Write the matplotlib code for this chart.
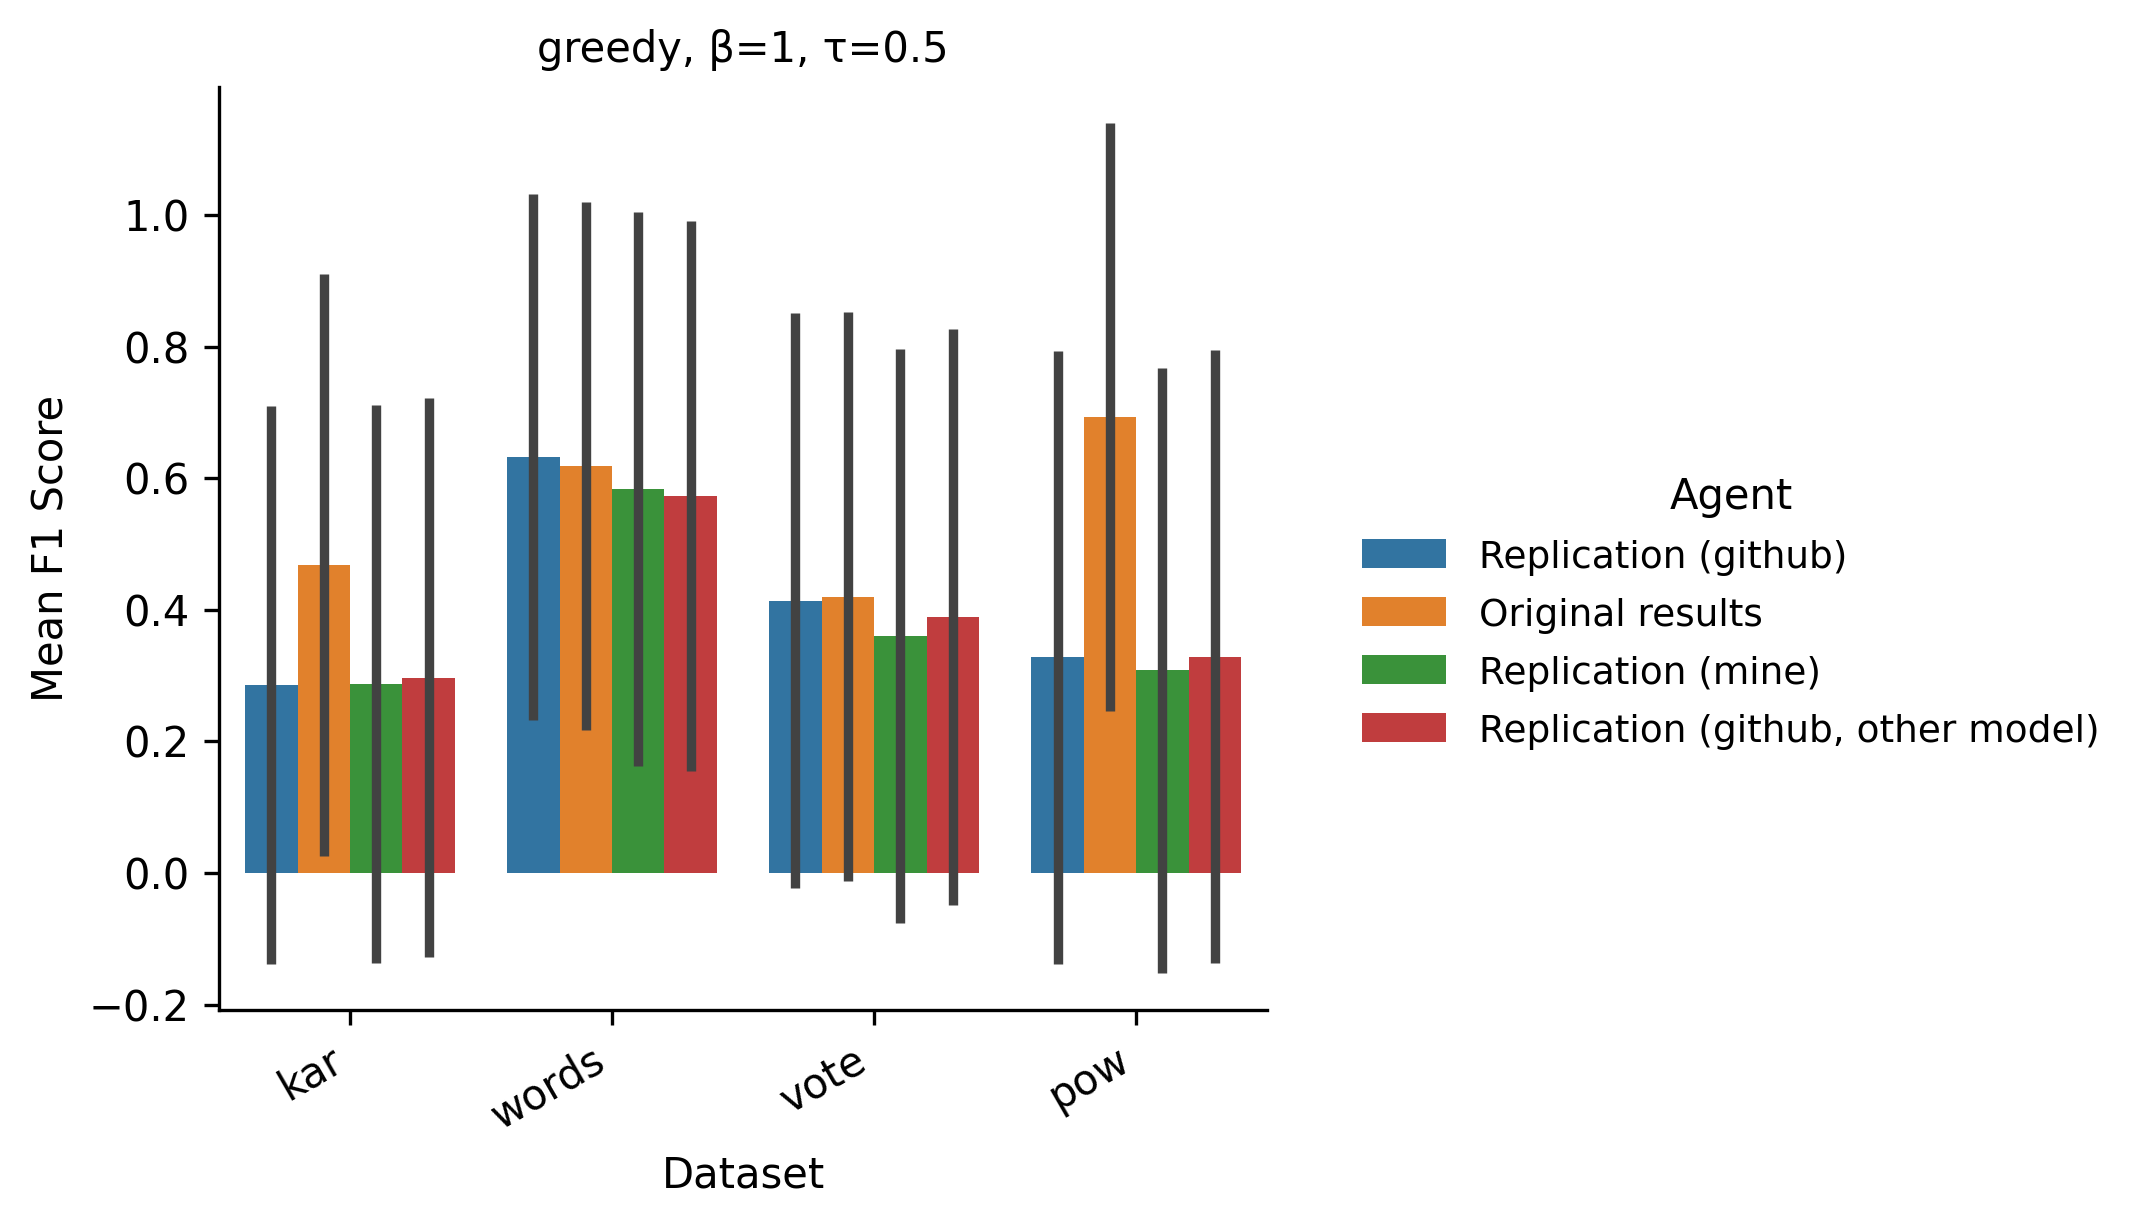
import matplotlib
matplotlib.use("Agg")
import matplotlib.pyplot as plt
import numpy as np

datasets = ["kar", "words", "vote", "pow"]
agents = [
    "Replication (github)",
    "Original results",
    "Replication (mine)",
    "Replication (github, other model)",
]
colors = ["#3274a1", "#e1812c", "#3a923a", "#c03d3e"]

# mean F1 per agent, one value per dataset
mean_github = [0.286, 0.632, 0.414, 0.328]
mean_original = [0.468, 0.619, 0.420, 0.693]
mean_mine = [0.287, 0.583, 0.360, 0.308]
mean_other = [0.297, 0.573, 0.389, 0.329]

# standard deviation (error bar half-length)
sd_github = [0.424, 0.400, 0.437, 0.466]
sd_original = [0.442, 0.401, 0.432, 0.447]
sd_mine = [0.424, 0.421, 0.436, 0.460]
sd_other = [0.425, 0.418, 0.438, 0.466]

means = [mean_github, mean_original, mean_mine, mean_other]
sds = [sd_github, sd_original, sd_mine, sd_other]

fig = plt.figure(figsize=(2139 / 300, 1226 / 300), dpi=300)
ax = fig.add_axes([0.1024, 0.1762, 0.4900, 0.7529])

x = np.arange(len(datasets))
n = len(agents)
width = 0.8 / n
for i, (agent, color) in enumerate(zip(agents, colors)):
    pos = x - 0.4 + width * (i + 0.5)
    ax.bar(pos, means[i], width=width, color=color, label=agent, linewidth=0)
    for p, m, s in zip(pos, means[i], sds[i]):
        ax.plot([p, p], [m - s, m + s], color=".26", linewidth=2.25,
                solid_capstyle="butt", zorder=3)

ax.set_xlim(-0.5, len(datasets) - 0.5)
ax.set_ylim(-0.208, 1.1945)
ax.set_yticks(np.arange(-0.2, 1.01, 0.2))
ax.set_xticks(x)
ax.set_xticklabels(datasets, rotation=30, ha="right")
ax.set_xlabel("Dataset")
ax.set_ylabel("Mean F1 Score")
ax.set_title("greedy, β=1, τ=0.5", fontsize=10)
ax.spines["top"].set_visible(False)
ax.spines["right"].set_visible(False)

handles, labels = ax.get_legend_handles_labels()
legend = fig.legend(handles, labels, title="Agent", loc="center left",
                    bbox_to_anchor=(0.6194, 0.5), frameon=False)
for text in legend.get_texts():
    text.set_fontsize(9)

fig.savefig("out.png", dpi=300)
